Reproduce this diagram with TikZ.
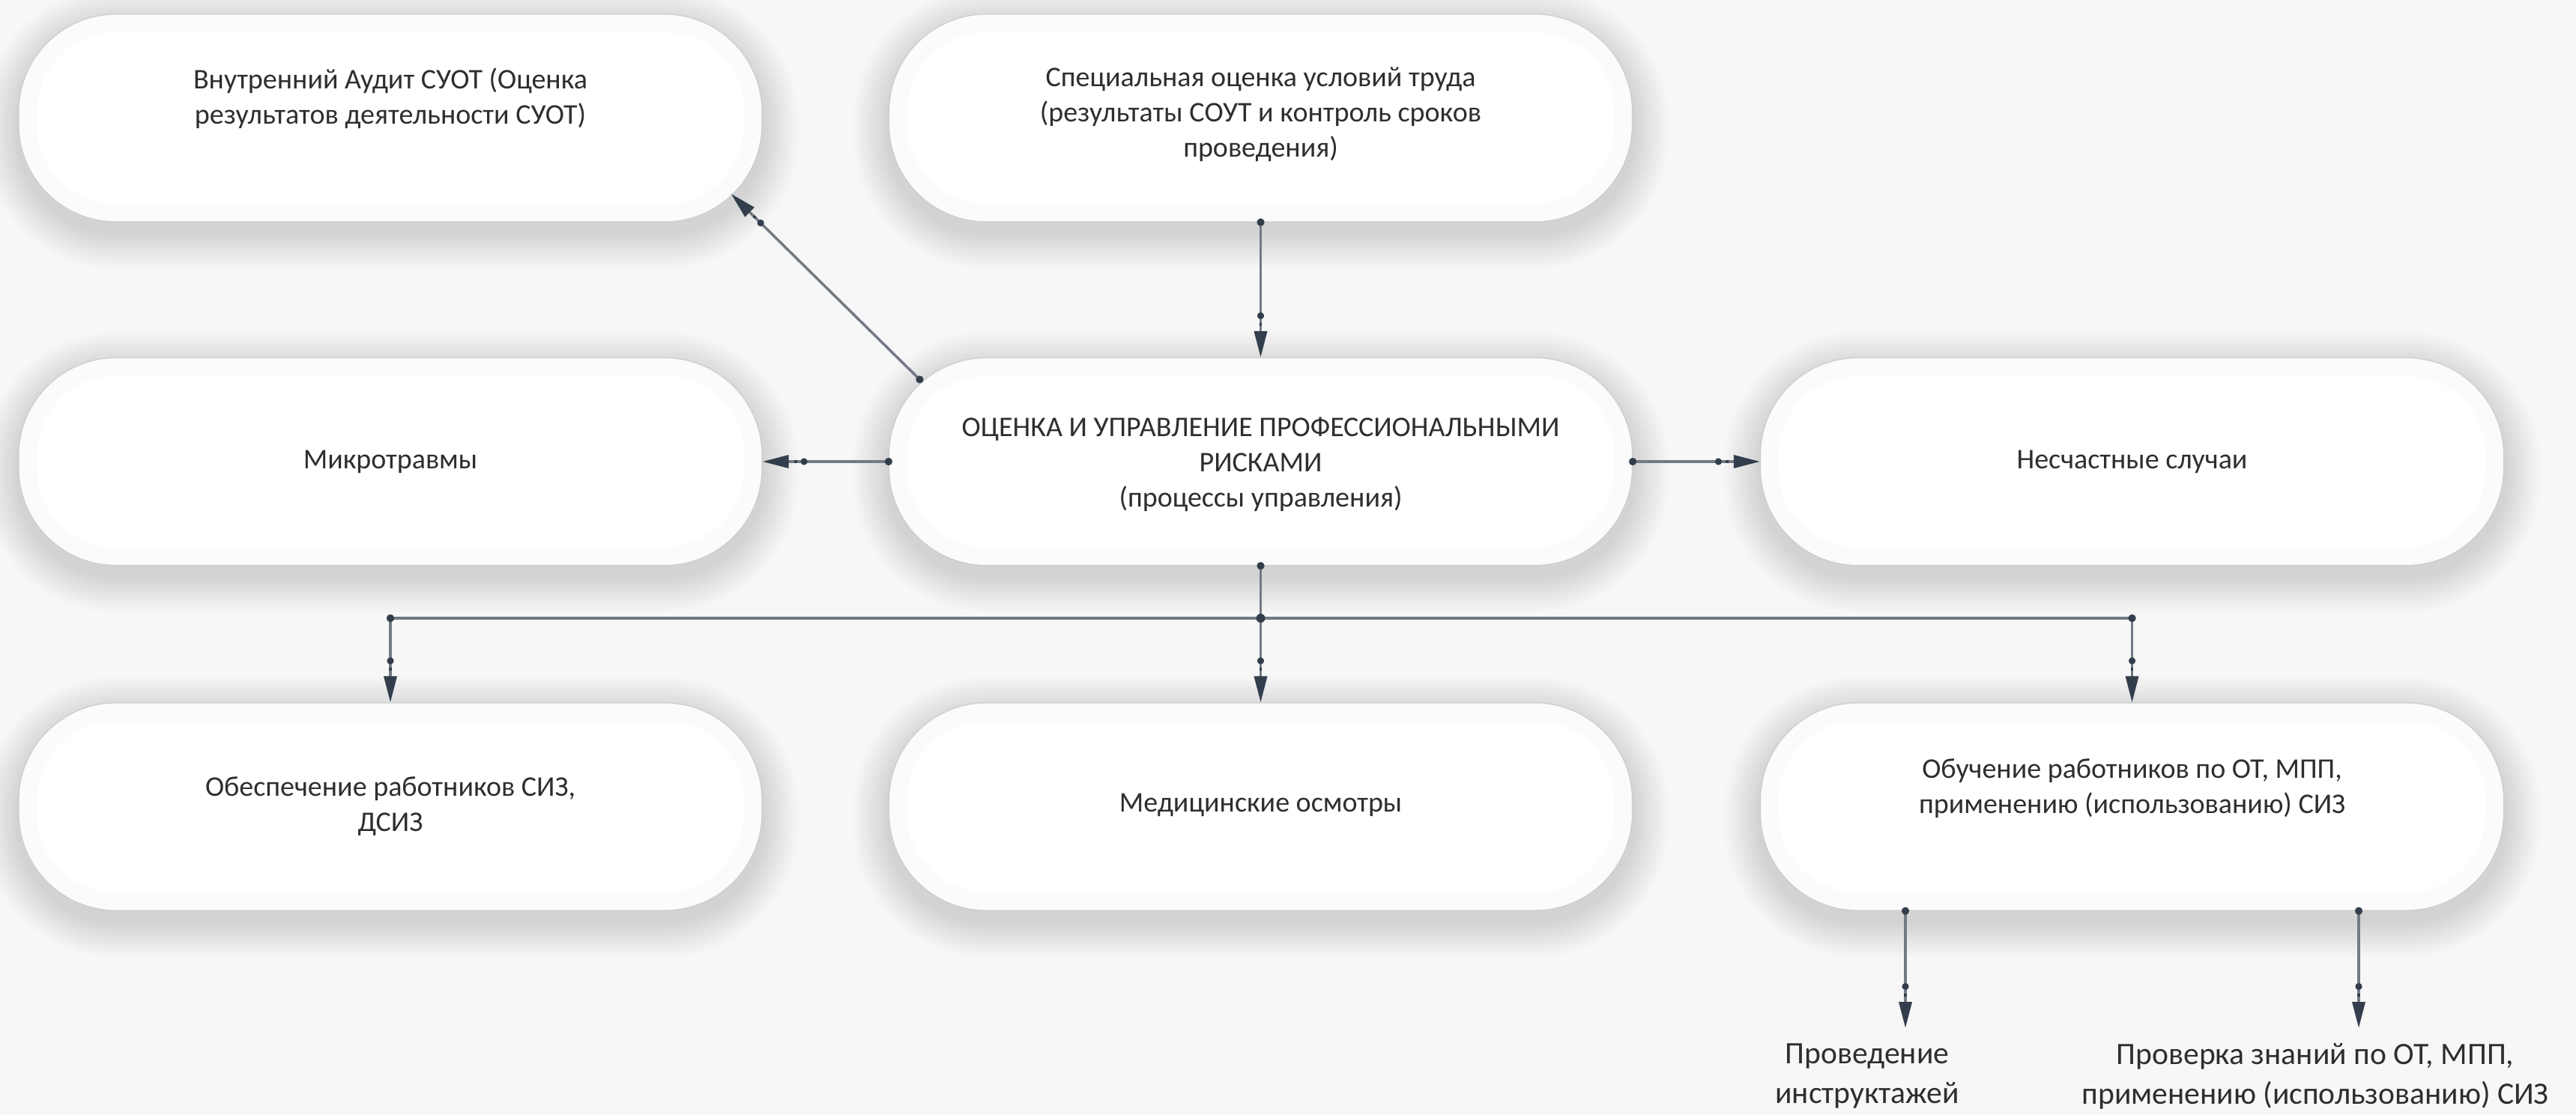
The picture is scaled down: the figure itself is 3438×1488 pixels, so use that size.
\documentclass[tikz,border=0pt]{standalone}
\usepackage{fontspec}
\setmainfont{Carlito}
\usetikzlibrary{arrows.meta,calc}
\definecolor{bg}{HTML}{F7F7F7}
\definecolor{ring}{HTML}{FBFBFB}
\definecolor{edgec}{HTML}{CDCDCD}
\definecolor{connc}{HTML}{737A84}
\definecolor{tipc}{HTML}{333E4D}
\definecolor{txtc}{HTML}{2E2E2E}
\begin{document}
\begin{tikzpicture}[x=0.5pt,y=-0.5pt,
 pill/.style={draw=edgec, line width=0.6pt, fill=ring, rounded corners=65pt, minimum width=496pt, minimum height=138.5pt, inner sep=0pt},
 lbl/.style={text=txtc, font=\fontsize{19}{23.5}\selectfont, align=center, inner sep=0pt},
 big/.style={text=txtc, font=\fontsize{20.8}{26.5}\selectfont, align=center, inner sep=0pt},
 endtip/.style={-{Circle[length=4.5pt,width=4.5pt,color=tipc,sep=2.5pt] Rectangle[length=2pt,width=1.6pt,color=tipc,sep=3.5pt] Triangle[length=17.5pt,width=8.5pt,color=tipc]}},
 arr/.style={draw=connc, line width=1.75pt, {Circle[length=5pt,width=5pt,color=tipc]}-{Circle[length=4.5pt,width=4.5pt,color=tipc,sep=2.5pt] Rectangle[length=2pt,width=1.6pt,color=tipc,sep=3.5pt] Triangle[length=17.5pt,width=8.5pt,color=tipc]}, shorten <=-2.5pt},
 drop/.style={draw=connc, line width=1.75pt, endtip},
 link/.style={draw=connc, line width=1.75pt}
]
\useasboundingbox (0,0) rectangle (3438,1488);
\fill[bg] (0,0) rectangle (3438,1488);
% shadows
\foreach \cx/\cy in {521/157.5, 1682.5/157.5, 521/616, 1682.5/616, 2845.5/616, 521/1076.5, 1682.5/1076.5, 2845.5/1076.5} {
  \foreach \i in {1,...,12} {
    \pgfmathsetmacro{\ee}{4*\i}
    \pgfmathsetmacro{\rr}{65+2*\i}
    \fill[black, opacity=0.011, rounded corners=\rr pt] (\cx-496-\ee, \cy-138.5-\ee+14) rectangle (\cx+496+\ee, \cy+138.5+\ee+14);
  }
}
% nodes
\node[pill] (A) at (521,157.5) {};
\node[pill] (B) at (1682.5,157.5) {};
\node[pill] (C) at (521,616) {};
\node[pill] (D) at (1682.5,616) {};
\node[pill] (E) at (2845.5,616) {};
\node[pill] (F) at (521,1076.5) {};
\node[pill] (G) at (1682.5,1076.5) {};
\node[pill] (H) at (2845.5,1076.5) {};
\foreach \n in {A,B,C,D,E,F,G,H} {
  \fill[white, rounded corners=52pt] ([shift={(12.5pt,-12.5pt)}]\n.north west) rectangle ([shift={(-12.5pt,12.5pt)}]\n.south east);
}
% texts
\node[lbl] (tA) at (521,131) {Внутренний Аудит СУОТ (Оценка\\результатов деятельности СУОТ)};
\node[lbl] (tB) at (1682.5,153) {Специальная оценка условий труда\\(результаты СОУТ и контроль сроков\\проведения)};
\node[lbl] (tC) at (521,616) {Микротравмы};
\node[lbl] (tD) at (1682.5,620) {ОЦЕНКА И УПРАВЛЕНИЕ ПРОФЕССИОНАЛЬНЫМИ\\РИСКАМИ\\(процессы управления)};
\node[lbl] (tE) at (2845.5,616) {Несчастные случаи};
\node[lbl] (tF) at (521,1076) {Обеспечение работников СИЗ,\\ДСИЗ};
\node[lbl] (tG) at (1682.5,1074) {Медицинские осмотры};
\node[lbl] (tH) at (2845.5,1052) {Обучение работников по ОТ, МПП,\\применению (использованию) СИЗ};
\node[big] (tL) at (2492,1436) {Проведение\\инструктажей};
\node[big] (tR) at (3090,1436) {Проверка знаний по ОТ, МПП,\\применению (использованию) СИЗ};
% connectors
\draw[arr] ([xshift=20.75pt,yshift=-14.75pt]D.north west) -- ([xshift=-21pt,yshift=19pt]A.south east);
\draw[arr] (B.south) -- (D.north);
\draw[arr] (D.west) -- (C.east);
\draw[arr] (D.east) -- (E.west);
\coordinate (J) at (1682.5,825);
\coordinate (JL) at (521,825);
\coordinate (JR) at (2845.5,825);
\draw[link, {Circle[length=5pt,width=5pt,color=tipc]}-, shorten <=-2.5pt] (D.south) -- (J);
\draw[link] (JL) -- (JR);
\draw[drop] (JL) -- (F.north);
\draw[drop] (J) -- (G.north);
\draw[drop] (JR) -- (H.north);
\fill[tipc] (JL) circle (2.6pt);
\fill[tipc] (J) circle (3pt);
\fill[tipc] (JR) circle (2.6pt);
\coordinate (bL) at (2543,1372);
\coordinate (bR) at (3148,1372);
\draw[arr] ([xshift=-151.25pt]H.south) -- (bL);
\draw[arr] ([xshift=151.25pt]H.south) -- (bR);
\end{tikzpicture}
\end{document}
